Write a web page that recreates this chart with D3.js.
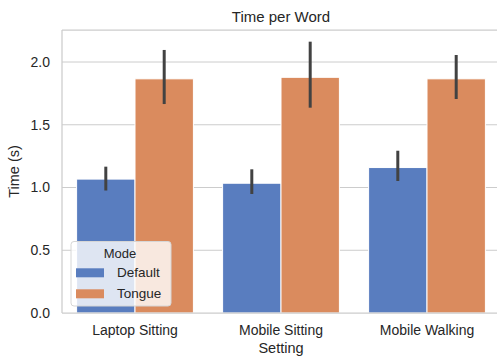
<!DOCTYPE html>
<html>
<head>
<meta charset="utf-8">
<script src="https://cdn.jsdelivr.net/npm/d3@7"></script>
<style>
  html, body { margin: 0; padding: 0; background: #fff; }
  svg { display: block; font-family: "Liberation Sans", Arial, sans-serif; }
</style>
</head>
<body>
<svg id="chart" width="497" height="358"></svg>
<script>
// Mean time per word (seconds) with 95% confidence intervals
const settings = ["Laptop Sitting", "Mobile Sitting", "Mobile Walking"];
const modes = ["Default", "Tongue"];
const defaultMean = [1.067, 1.034, 1.159];
const tongueMean = [1.866, 1.878, 1.866];
const defaultLow = [0.976, 0.948, 1.052];
const defaultHigh = [1.166, 1.145, 1.293];
const tongueLow = [1.665, 1.636, 1.705];
const tongueHigh = [2.096, 2.162, 2.056];
const yTicks = [0, 0.5, 1.0, 1.5, 2.0];

const colors = { Default: "#597dbf", Tongue: "#da8b5e" };
const textColor = "#262626";
const gridColor = "#cccccc";

const rows = [];
settings.forEach((s, i) => {
  rows.push({ setting: s, mode: "Default", mean: defaultMean[i], lo: defaultLow[i], hi: defaultHigh[i] });
  rows.push({ setting: s, mode: "Tongue", mean: tongueMean[i], lo: tongueLow[i], hi: tongueHigh[i] });
});

const svg = d3.select("#chart");
const plotLeft = 62, plotRight = 500, plotTop = 30, plotBottom = 313;

const x = d3.scaleBand().domain(settings).range([plotLeft, plotRight]).padding(0);
const inner = d3.scaleBand().domain(modes)
  .range([x.bandwidth() * 0.1, x.bandwidth() * 0.9]).padding(0);
const y = d3.scaleLinear().domain([0, 2.255]).range([plotBottom, plotTop]);

// horizontal grid
svg.append("g")
  .selectAll("line").data(yTicks.filter(d => d > 0)).join("line")
  .attr("x1", plotLeft).attr("x2", plotRight)
  .attr("y1", d => y(d)).attr("y2", d => y(d))
  .attr("stroke", gridColor).attr("stroke-width", 1);

// bars
svg.append("g").selectAll("rect").data(rows).join("rect")
  .attr("x", d => x(d.setting) + inner(d.mode))
  .attr("width", inner.bandwidth())
  .attr("y", d => y(d.mean))
  .attr("height", d => y(0) - y(d.mean))
  .attr("fill", d => colors[d.mode])
  .attr("stroke", "#ffffff").attr("stroke-width", 1);

// confidence interval lines
svg.append("g").selectAll("line").data(rows).join("line")
  .attr("x1", d => x(d.setting) + inner(d.mode) + inner.bandwidth() / 2)
  .attr("x2", d => x(d.setting) + inner(d.mode) + inner.bandwidth() / 2)
  .attr("y1", d => y(d.lo)).attr("y2", d => y(d.hi))
  .attr("stroke", "#424242").attr("stroke-width", 3).attr("stroke-linecap", "butt");

// spines
const spine = svg.append("g").attr("stroke", gridColor).attr("stroke-width", 1.25);
spine.append("line").attr("x1", plotLeft).attr("x2", plotLeft).attr("y1", plotTop).attr("y2", plotBottom);
spine.append("line").attr("x1", plotLeft).attr("x2", plotRight).attr("y1", plotTop).attr("y2", plotTop);
spine.append("line").attr("x1", plotLeft).attr("x2", plotRight).attr("y1", plotBottom).attr("y2", plotBottom);

// y axis labels
const yAxis = svg.append("g")
  .attr("transform", `translate(${plotLeft},0)`)
  .call(d3.axisLeft(y).tickValues(yTicks).tickFormat(d3.format(".1f")).tickSize(0).tickPadding(12));
yAxis.select(".domain").remove();
yAxis.selectAll("text").attr("fill", textColor).style("font-size", "14px")
  .style("font-family", "'Liberation Sans', Arial, sans-serif");

// x axis labels
const xAxis = svg.append("g")
  .attr("transform", `translate(0,${plotBottom})`)
  .call(d3.axisBottom(x).tickSize(0).tickPadding(12));
xAxis.select(".domain").remove();
xAxis.selectAll("text").attr("fill", textColor).style("font-size", "14px")
  .style("font-family", "'Liberation Sans', Arial, sans-serif");

// title and axis titles
svg.append("text").attr("x", (plotLeft + plotRight) / 2).attr("y", 21.5)
  .attr("text-anchor", "middle").attr("fill", textColor).style("font-size", "15px")
  .text("Time per Word");
svg.append("text").attr("x", (plotLeft + plotRight) / 2).attr("y", 353)
  .attr("text-anchor", "middle").attr("fill", textColor).style("font-size", "14.5px")
  .text("Setting");
svg.append("text")
  .attr("transform", `translate(18.5,${(plotTop + plotBottom) / 2}) rotate(-90)`)
  .attr("text-anchor", "middle").attr("fill", textColor).style("font-size", "14.5px")
  .text("Time (s)");

// legend
const legend = svg.append("g");
legend.append("rect")
  .attr("x", 71).attr("y", 241.5).attr("width", 100).attr("height", 64.5)
  .attr("rx", 3).attr("fill", "#ffffff").attr("fill-opacity", 0.8)
  .attr("stroke", "#d6d6d6").attr("stroke-width", 1);
legend.append("text").attr("x", 120).attr("y", 257.5)
  .attr("text-anchor", "middle").attr("fill", textColor).style("font-size", "13px")
  .text("Mode");
modes.forEach((m, i) => {
  const yy = 268.3 + i * 21;
  legend.append("rect").attr("x", 76).attr("y", yy).attr("width", 28).attr("height", 9)
    .attr("fill", colors[m]);
  legend.append("text").attr("x", 117).attr("y", yy + 8.7)
    .attr("fill", textColor).style("font-size", "13.5px").text(m);
});
</script>
</body>
</html>
